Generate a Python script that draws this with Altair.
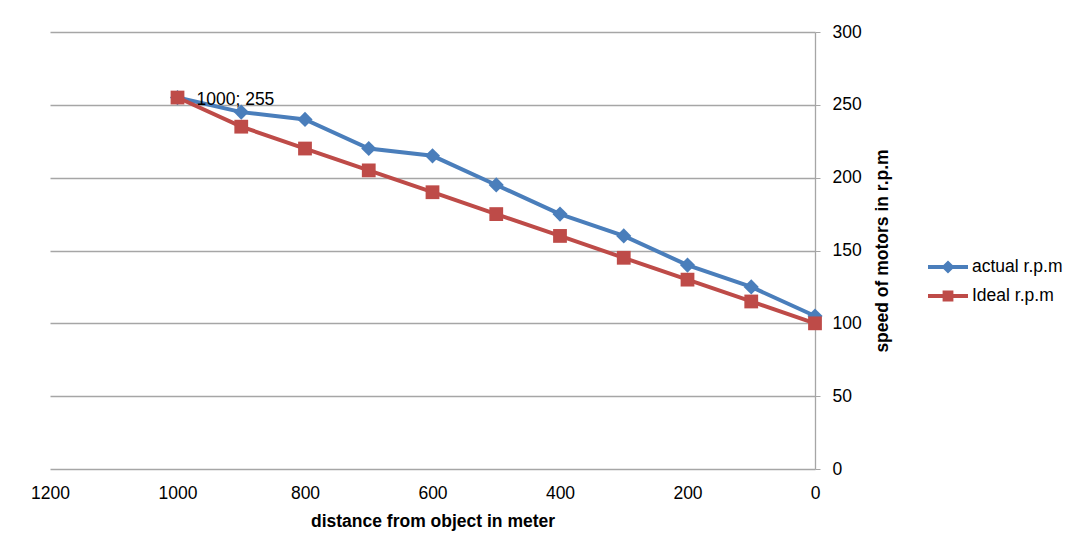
import altair as alt
import pandas as pd

distance = [1000, 900, 800, 700, 600, 500, 400, 300, 200, 100, 0]
actual_rpm = [255, 245, 240, 220, 215, 195, 175, 160, 140, 125, 105]
ideal_rpm = [255, 235, 220, 205, 190, 175, 160, 145, 130, 115, 100]
series_names = ["actual r.p.m", "Ideal r.p.m"]
series_colors = ["#4A7EBB", "#BE4B48"]
x_ticks = [1200, 1000, 800, 600, 400, 200, 0]
y_ticks = [0, 50, 100, 150, 200, 250, 300]

rows = []
for d, a in zip(distance, actual_rpm):
    rows.append({"distance": d, "rpm": a, "series": series_names[0]})
for d, i in zip(distance, ideal_rpm):
    rows.append({"distance": d, "rpm": i, "series": series_names[1]})
df = pd.DataFrame(rows)

FONT = "Liberation Sans"
FS = 17.5

xenc = alt.X("distance:Q", scale=alt.Scale(domain=[1200, 0]),
             axis=alt.Axis(values=x_ticks, format="d", title="distance from object in meter",
                           grid=False, domain=False, ticks=False, labelPadding=15,
                           labelFlush=False,
                           labelFontSize=FS, labelColor="#000", titleFontSize=FS,
                           titleFontWeight="bold", titleColor="#000", titlePadding=11,
                           labelFont=FONT, titleFont=FONT))
yenc = alt.Y("rpm:Q", scale=alt.Scale(domain=[0, 300]),
             axis=alt.Axis(orient="right", values=y_ticks, format="d",
                           title="speed of motors in r.p.m", titleAngle=270,
                           grid=True, gridColor="#A6A6A6", gridWidth=1.3,
                           domainColor="#A6A6A6", domainWidth=1.3, tickColor="#A6A6A6",
                           tickSize=5, labelPadding=12, labelFontSize=FS, labelColor="#000",
                           titleFontSize=FS, titleFontWeight="bold", titleColor="#000",
                           titlePadding=30, labelFont=FONT, titleFont=FONT))

legend_paths = [
    "M-1,-0.1H1V0.1H-1Z M0,-0.33L0.33,0L0,0.33L-0.33,0Z",
    "M-1,-0.1H1V0.1H-1Z M-0.27,-0.27H0.27V0.27H-0.27Z",
]

color_enc = alt.Color("series:N", scale=alt.Scale(domain=series_names, range=series_colors),
                      legend=alt.Legend(title=None, orient="none", legendX=878, legendY=215,
                                        rowPadding=-3,
                                        symbolSize=1600, labelFontSize=FS, labelFont=FONT,
                                        labelColor="#000", labelOffset=4,
                                        padding=0, symbolStrokeWidth=0, symbolOpacity=1))

lines = alt.Chart(df).mark_line(strokeWidth=4).encode(
    x=xenc, y=yenc,
    color=color_enc,
    detail="series:N",
)

actual_pts = alt.Chart(df).transform_filter(
    alt.datum.series == series_names[0]
).mark_point(shape="diamond", filled=True, size=230, opacity=1).encode(
    x="distance:Q", y="rpm:Q",
    color=alt.value(series_colors[0]),
)
ideal_pts = alt.Chart(df).transform_filter(
    alt.datum.series == series_names[1]
).mark_point(shape="square", filled=True, size=190, opacity=1).encode(
    x="distance:Q", y="rpm:Q",
    color=alt.value(series_colors[1]),
)

legend_layer = alt.Chart(df).transform_filter("false").mark_point(filled=True, opacity=1).encode(
    x="distance:Q", y="rpm:Q",
    color=color_enc,
    shape=alt.Shape("series:N", scale=alt.Scale(domain=series_names, range=legend_paths),
                    legend=None),
)

label = alt.Chart(df).transform_filter(
    (alt.datum.series == series_names[0]) & (alt.datum.distance == distance[0])
).transform_calculate(
    txt="datum.distance + '; ' + datum.rpm"
).mark_text(align="left", baseline="middle", dx=19, dy=2, fontSize=FS, font=FONT,
            color="#000").encode(
    x="distance:Q", y="rpm:Q", text="txt:N"
)

chart = alt.layer(lines, actual_pts, ideal_pts, legend_layer, label).properties(
    width=765, height=437,
    autosize=alt.AutoSizeParams(type="none"),
    padding={"left": 42, "top": 24, "right": 257, "bottom": 78},
    background="#FFFFFF",
).configure_view(stroke=None)

chart.save("out.html", embed_options={"renderer": "svg", "actions": False})
